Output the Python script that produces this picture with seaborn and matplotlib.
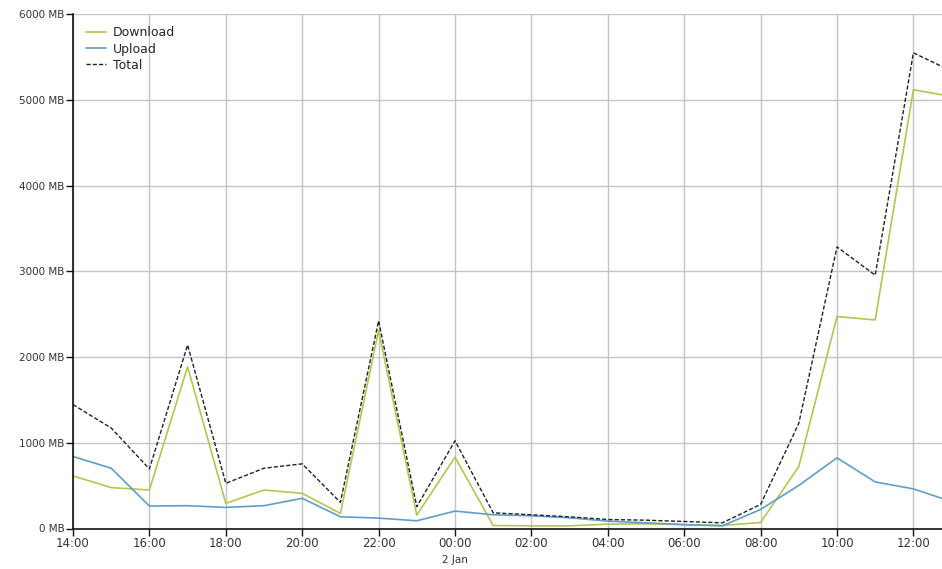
import numpy as np
import pandas as pd
import matplotlib
matplotlib.use("Agg")
import matplotlib.pyplot as plt
import seaborn as sns

hours = ["14:00", "15:00", "16:00", "17:00", "18:00", "19:00", "20:00", "21:00",
         "22:00", "23:00", "00:00", "01:00", "02:00", "03:00", "04:00", "05:00",
         "06:00", "07:00", "08:00", "09:00", "10:00", "11:00", "12:00", "13:00"]
download = [613, 477, 449, 1887, 293, 449, 410, 176, 2310, 156, 832, 35,
            31, 31, 51, 55, 45, 35, 70, 723, 2472, 2432, 5117, 5037]
upload = [840, 703, 262, 266, 246, 266, 352, 137, 121, 90, 203, 160,
          148, 125, 86, 66, 45, 31, 222, 502, 824, 543, 462, 314]
total = [1445, 1172, 695, 2141, 527, 703, 754, 305, 2422, 254, 1023, 183,
         160, 136, 105, 97, 82, 66, 281, 1226, 3284, 2954, 5547, 5334]
tick_labels = ["14:00", "16:00", "18:00", "20:00", "22:00", "00:00",
               "02:00", "04:00", "06:00", "08:00", "10:00", "12:00"]
y_ticks = [0, 1000, 2000, 3000, 4000, 5000, 6000]

sns.set_style("white")
plt.rcParams['font.family'] = ['DejaVu Sans']

x = np.arange(len(hours))
df = pd.DataFrame({"x": x, "Download": download, "Upload": upload, "Total": total})

fig = plt.figure(figsize=(9.42, 5.69), dpi=100)
ax = fig.add_axes([73/942, 1-528.5/569, 1-73/942, (528.5-14)/569])

sns.lineplot(data=df, x="x", y="Download", ax=ax, color="#b3c64f", lw=1.2, label="Download")
sns.lineplot(data=df, x="x", y="Upload", ax=ax, color="#5f9ecb", lw=1.2, label="Upload")
sns.lineplot(data=df, x="x", y="Total", ax=ax, color="#222222", lw=1.0,
             linestyle=(0, (3, 1.5)), label="Total")

ax.set_xlim(0, (942-73)/38.2)
ax.set_ylim(0, 6000)
ax.set_xticks(np.arange(0, 23, 2))
ax.set_xticklabels(tick_labels, fontsize=8.5, color="#333333")
ax.set_yticks(y_ticks)
ax.set_yticklabels([f"{v} MB" for v in y_ticks], fontsize=7.5, color="#333333")
ax.set_xlabel("")
ax.set_ylabel("")
ax.grid(True, color="#c4c4c4", lw=1.0)
ax.set_axisbelow(True)
for s in ["top", "right"]:
    ax.spines[s].set_visible(False)
for s in ["left", "bottom"]:
    ax.spines[s].set_color("#111111")
    ax.spines[s].set_linewidth(1.2)
ax.tick_params(axis="both", which="both", direction="out", length=5, width=1, color="#111111",
               left=True, bottom=True, pad=1)

ax.text(10, -0.052, "2 Jan", transform=ax.get_xaxis_transform(), ha="center", va="top",
        fontsize=7.5, color="#333333")

leg = ax.legend(loc="upper left", frameon=False, fontsize=9, handlelength=1.6,
                handletextpad=0.6, labelspacing=0.25, bbox_to_anchor=(0.0, 1.0),
                borderaxespad=0.6)

fig.savefig("out.png", dpi=100)
